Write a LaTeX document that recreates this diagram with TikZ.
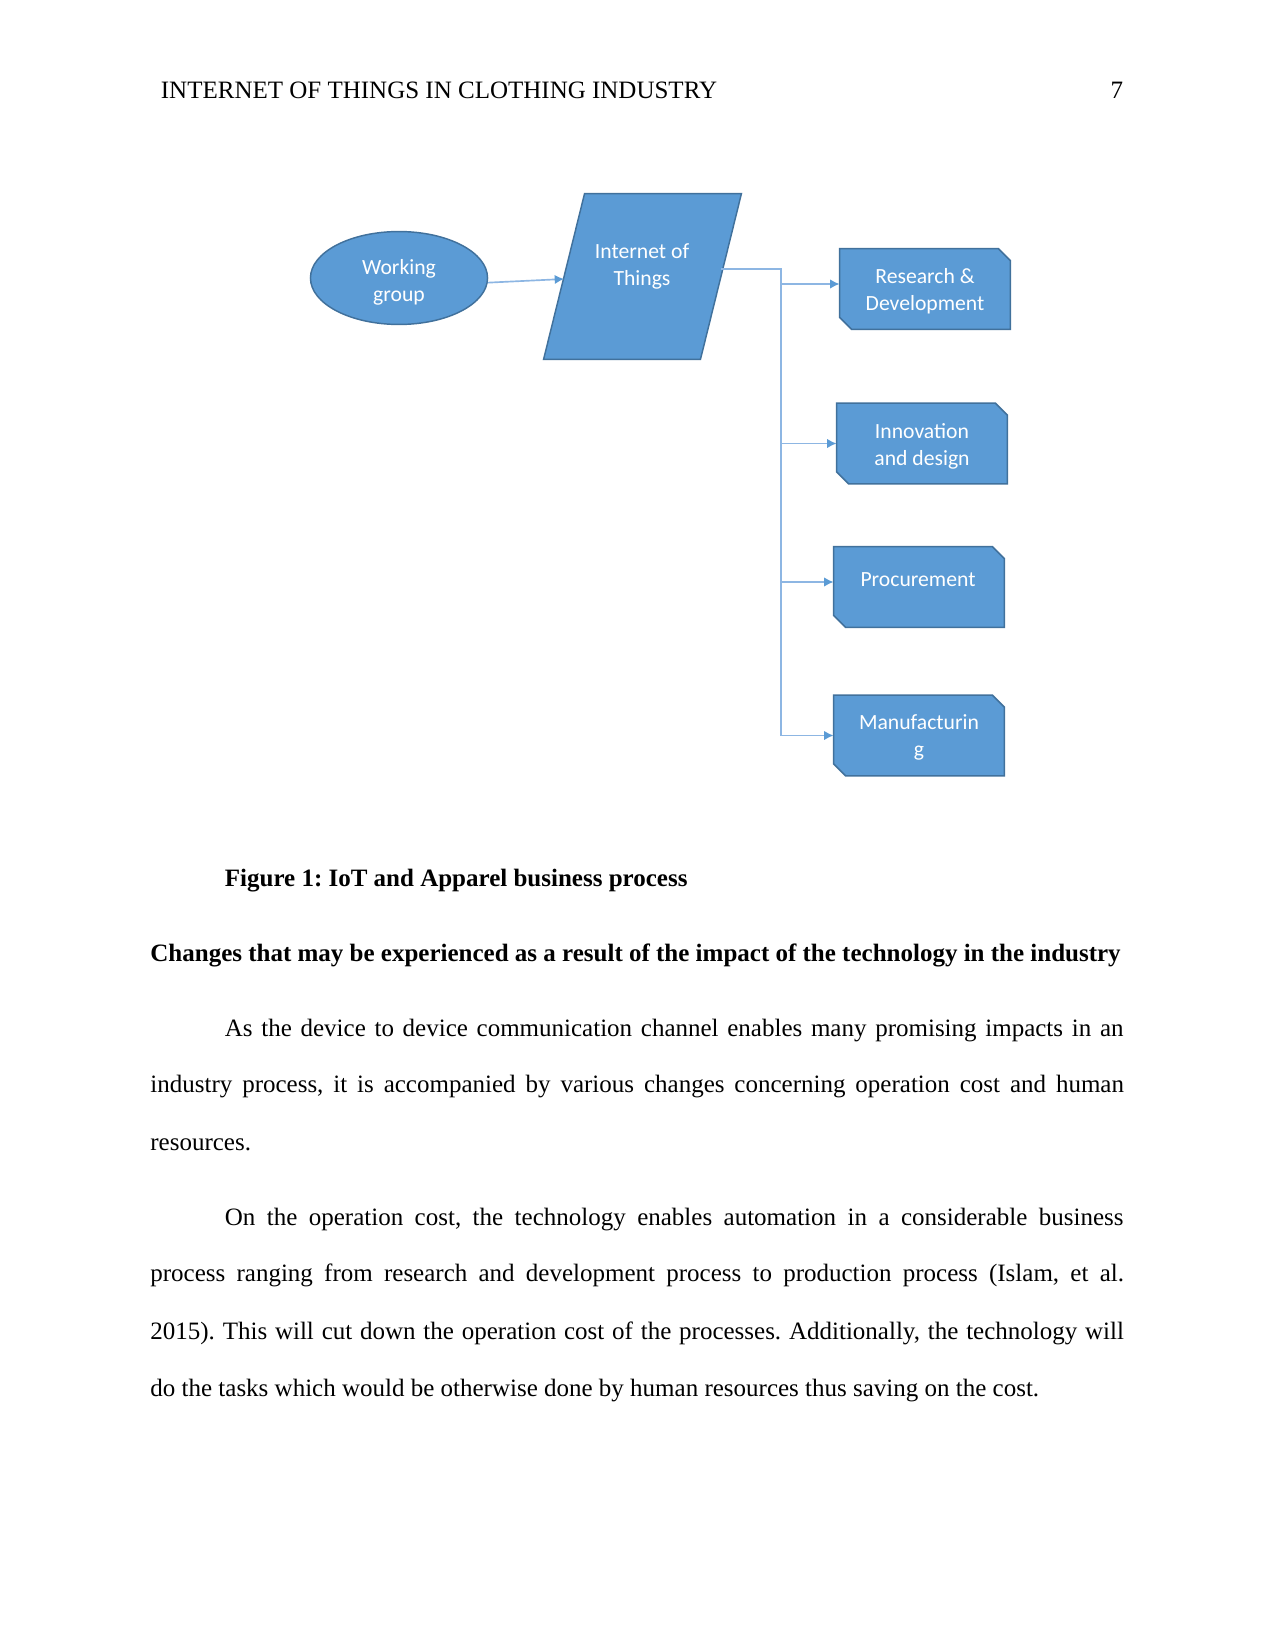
\documentclass[tikz,border=0pt]{standalone}
\usepackage{fontspec}
\setmainfont{Liberation Serif}
\newfontfamily\diagfont{Carlito}
\usetikzlibrary{shapes.geometric,arrows.meta}
\definecolor{boxfill}{HTML}{5B9BD5}
\definecolor{boxline}{HTML}{41719C}
\definecolor{connline}{HTML}{8DB6E3}
\definecolor{tipcol}{HTML}{5B9BD5}
\newcommand\chamferoutline[1]{%
  \filldraw[shapepaint] (#1.north west) -- ([xshift=-5.8pt]#1.north east)
    -- ([yshift=-5.8pt]#1.north east) -- (#1.south east)
    -- ([xshift=5.8pt]#1.south west) -- ([yshift=5.8pt]#1.south west) -- cycle;}
\begin{document}
\frenchspacing
\begin{tikzpicture}[x=0.48pt,y=-0.48pt,
  shapepaint/.style={fill=boxfill,draw=boxline,line width=0.7pt,line join=miter},
  shapebox/.style={shapepaint,inner sep=0pt},
  holder/.style={rectangle,draw=none,inner sep=0pt},
  procbox/.style={holder,minimum width=81.6pt,minimum height=38.4pt},
  dtext/.style={text=white,align=center,inner sep=0pt,
    font=\diagfont\fontsize{10.4}{13}\selectfont},
  conn/.style={draw=connline,line width=0.8pt},
  arr/.style={conn,-{Latex[length=4.5pt,width=4.5pt,color=tipcol]}},
  body/.style={anchor=base west,inner sep=0pt,font=\fontsize{12}{14}\selectfont},
  bodyb/.style={body,font=\fontsize{12}{14}\selectfont\bfseries}
]
\useasboundingbox (0,0) rectangle (1275,1651);
\fill[white] (0,0) rectangle (1275,1651);

% header
\node[body] (head) at (160.5,98.5) {INTERNET OF THINGS IN CLOTHING INDUSTRY};
\node[body,anchor=base east] (pnum) at (1123.5,98.5) {7};

% diagram shapes
\node[shapebox,ellipse,minimum width=85pt,minimum height=44.6pt] (wg) at (399,278) {};
\node[holder,minimum width=74.9pt,minimum height=79.2pt] (iot) at (642.5,276.5) {};
\filldraw[shapepaint] ([xshift=9.84pt]iot.north west) -- ([xshift=9.84pt]iot.north east)
  -- ([xshift=-9.84pt]iot.south east) -- ([xshift=-9.84pt]iot.south west) -- cycle;
\node[procbox] (rd) at (925,289) {};
\node[procbox] (inn) at (922,443.5) {};
\node[procbox] (proc) at (919,587) {};
\node[procbox] (mfg) at (919,735.5) {};
\chamferoutline{rd}
\chamferoutline{inn}
\chamferoutline{proc}
\chamferoutline{mfg}

% texts in shapes
\node[dtext] (wgT) at (399,282) {Working\\group};
\node[dtext] (iotT) at (642,266) {Internet of\\Things};
\node[dtext] (rdT) at (925,291) {Research \&\\Development};
\node[dtext] (innT) at (922,446) {Innovation\\and design};
\node[dtext] (procT) at (918,580) {Procurement};
\node[dtext] (mfgT) at (919,737) {Manufacturin\\g};

% connectors
\coordinate (jM) at (781,735.5);
\coordinate (iotL) at ([yshift=-1.2pt]iot.west);
\coordinate (iotR) at ([yshift=3.6pt]iot.east);
\coordinate (rdA) at ([yshift=2.4pt]rd.west);
\coordinate (procA) at ([yshift=2.4pt]proc.west);
\draw[arr] (wg.-3) -- (iotL);
\draw[arr] (iotR) -| (jM) -- (mfg.west);
\draw[arr] (jM |- rdA) -- (rdA);
\draw[arr] (jM |- inn.west) -- (inn.west);
\draw[arr] (jM |- procA) -- (procA);

% caption and body text
\node[bodyb] (cap) at (224.5,886.7) {Figure 1: IoT and Apparel business process};
\node[bodyb] (sec) at (150,961) {Changes that may be experienced as a result of the impact of the technology in the industry};

\node[body] (p1a) at (224.5,1036) {\makebox[431.3pt][s]{As the device to device communication channel enables many promising impacts in an}};
\node[body] (p1b) at (150,1092.7) {\makebox[467.3pt][s]{industry process, it is accompanied by various changes concerning operation cost and human}};
\node[body] (p1c) at (150,1150) {resources.};

\node[body] (p2a) at (224.5,1225) {\makebox[431.3pt][s]{On the operation cost, the technology enables automation in a considerable business}};
\node[body] (p2b) at (150,1281.7) {\makebox[467.3pt][s]{process ranging from research and development process to production process (Islam, et al.}};
\node[body] (p2c) at (150,1339) {\makebox[467.3pt][s]{2015). This will cut down the operation cost of the processes. Additionally, the technology will}};
\node[body] (p2d) at (150,1396) {do the tasks which would be otherwise done by human resources thus saving on the cost.};
\end{tikzpicture}
\end{document}
